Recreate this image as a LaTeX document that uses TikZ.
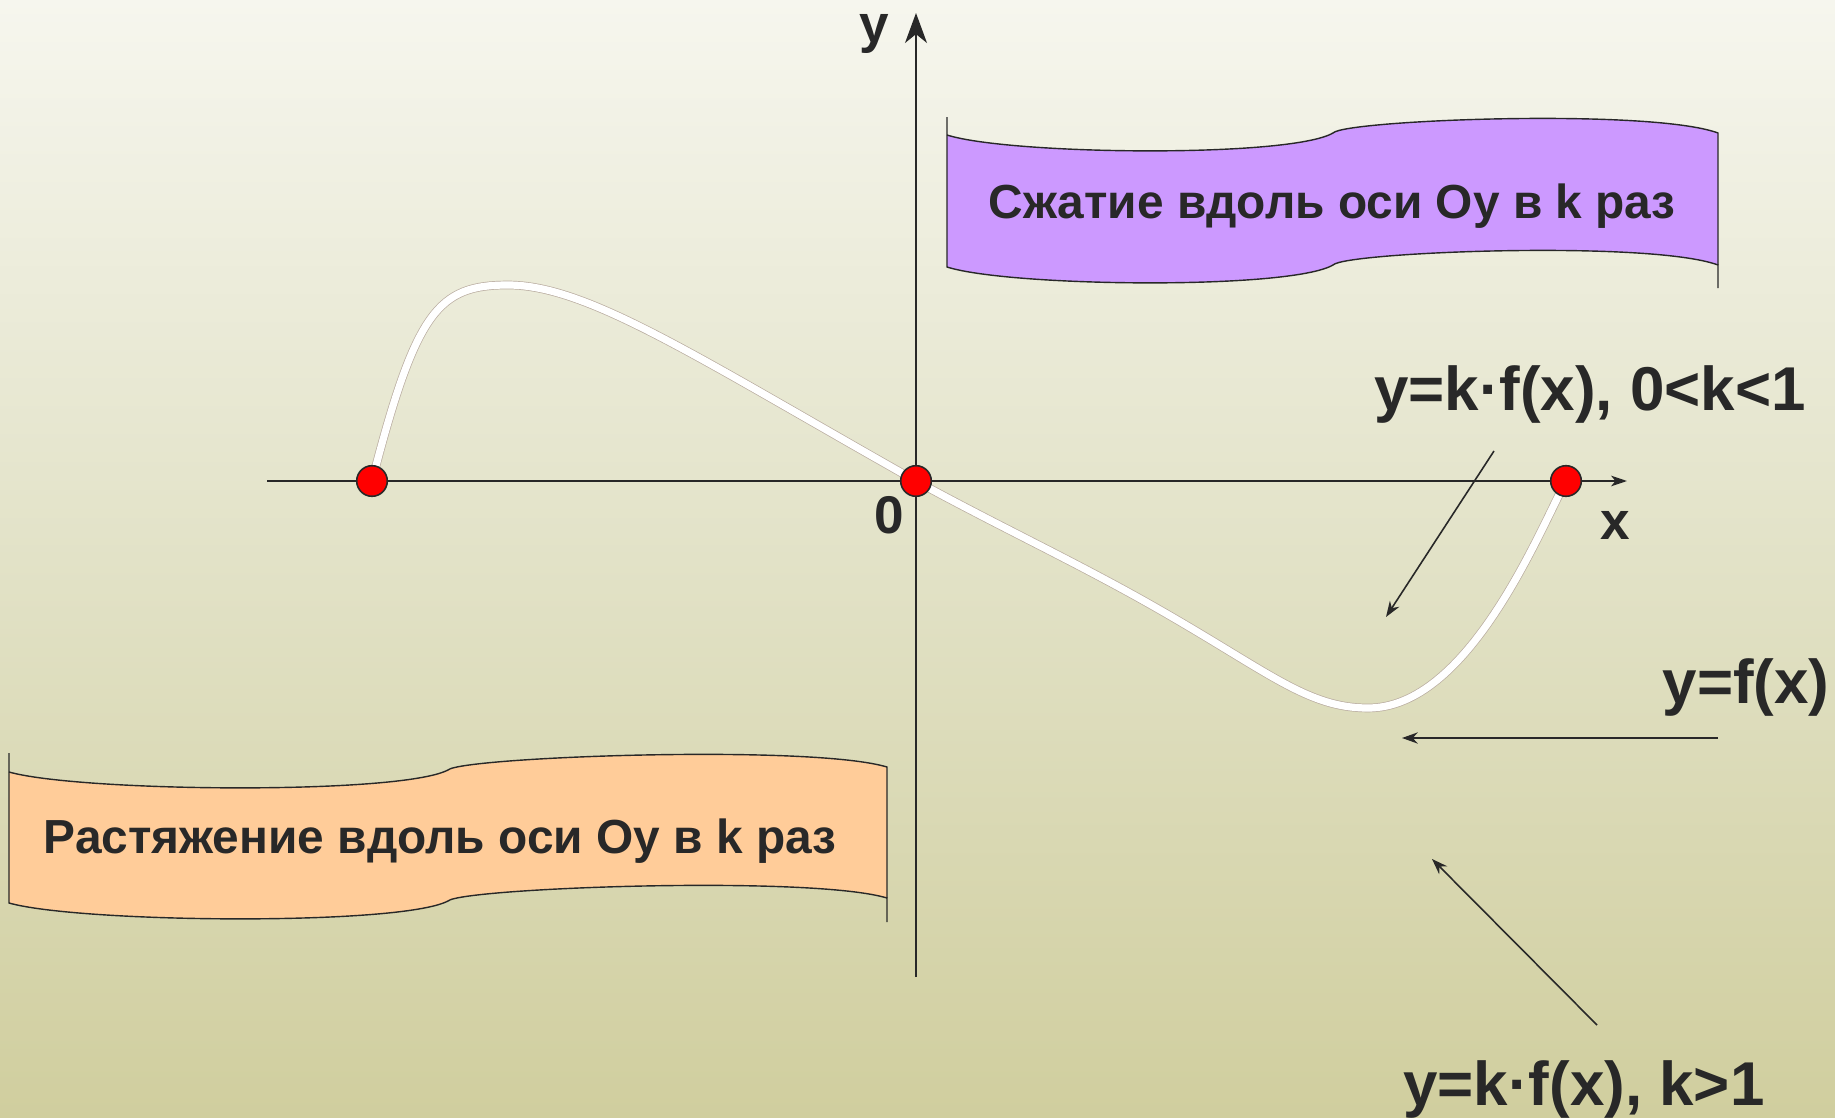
\documentclass[tikz,border=0pt]{standalone}
\usepackage{fontspec}
\setmainfont{Liberation Sans}
\usetikzlibrary{arrows.meta}
\definecolor{bgtop}{RGB}{246,246,238}
\definecolor{bgmid}{RGB}{226,226,199}
\definecolor{bgbot}{RGB}{208,206,158}
\definecolor{ink}{RGB}{40,40,40}
\definecolor{lilac}{RGB}{204,153,255}
\definecolor{peach}{RGB}{255,204,153}
\definecolor{curveedge}{RGB}{185,172,160}
\tikzset{
  axisline/.style={draw=ink, line width=0.6pt},
  pointer/.style={draw=ink, line width=0.45pt, -{Stealth[length=4.5pt, width=3.2pt]}},
  reddot/.style={circle, fill=red, draw=ink, line width=0.45pt, minimum size=8.7pt, inner sep=0pt},
  lbl/.style={font=\bfseries\fontsize{17.6}{20}\selectfont, text=ink, inner sep=0pt, anchor=base},
  axl/.style={font=\bfseries\fontsize{15.1}{18}\selectfont, text=ink, inner sep=0pt, anchor=base},
  bantext/.style={font=\bfseries\fontsize{13.6}{16}\selectfont, text=ink, inner sep=0pt, anchor=base},
  banner/.style={draw=ink, line width=0.4pt},
}
\begin{document}
\begin{tikzpicture}[x=0.01cm, y=-0.01cm]
\useasboundingbox (0,0) rectangle (1835,1118);
\shade[top color=bgtop, bottom color=bgbot, middle color=bgmid] (0,0) rectangle (1835,1118);

% purple banner
\path[fill=lilac] (947,135) .. controls (1010,155) and (1290,158) .. (1333,133)
  .. controls (1345,120) and (1650,108) .. (1718,133) -- (1718,265)
  .. controls (1650,240) and (1345,252) .. (1333,265)
  .. controls (1290,290) and (1010,287) .. (947,267) -- cycle;
\draw[banner] (947,117) -- (947,267) .. controls (1010,287) and (1290,290) .. (1333,265)
  .. controls (1345,252) and (1650,240) .. (1718,265) -- (1718,288);
\draw[banner] (947,135) .. controls (1010,155) and (1290,158) .. (1333,133)
  .. controls (1345,120) and (1650,108) .. (1718,133) -- (1718,265);
\node[bantext] (t1) at (1332,218) {Сжатие вдоль оси Оу в k раз};

% orange banner
\path[fill=peach] (9,772) .. controls (80,792) and (400,795) .. (448,770)
  .. controls (462,757) and (810,744) .. (887,767) -- (887,898)
  .. controls (810,875) and (462,888) .. (448,901)
  .. controls (400,926) and (80,923) .. (9,903) -- cycle;
\draw[banner] (9,753) -- (9,903) .. controls (80,923) and (400,926) .. (448,901)
  .. controls (462,888) and (810,875) .. (887,898) -- (887,922);
\draw[banner] (9,772) .. controls (80,792) and (400,795) .. (448,770)
  .. controls (462,757) and (810,744) .. (887,767) -- (887,898);
\node[bantext] (t2) at (440,853) {Растяжение вдоль оси Оу в k раз};

% axes
\coordinate (xs) at (267,481);
\coordinate (xe) at (1627,481);
\coordinate (ys) at (916,977);
\coordinate (ye) at (916,13);
\draw[axisline, -{Stealth[length=4.5pt, width=3pt, inset=1.2pt]}] (xs) -- (xe);
\draw[draw=ink, line width=0.85pt, -{Stealth[length=8.5pt, width=6.2pt, inset=2.5pt]}] (ys) -- (ye);

% dots positions
\coordinate (pL) at (372,481);
\coordinate (pO) at (916,481);
\coordinate (pR) at (1566,481);

% curve
\foreach \w/\c in {2.45pt/curveedge, 2.05pt/white}{
\draw[line width=\w, draw=\c] (pL) .. controls (416,311) and (438,285) .. (508,285)
  .. controls (588,285) and (698,358) .. (pO)
  .. controls (1000,527) and (1080,564) .. (1160,610)
  .. controls (1270,673) and (1308,708) .. (1368,708)
  .. controls (1468,708) and (1538,534) .. (pR);
}
\node[reddot] (dL) at (pL) {};
\node[reddot] (dO) at (pO) {};
\node[reddot] (dR) at (pR) {};

% axis labels
\node[axl] (ly) at (874,42) {y};
\node[axl] (lx) at (1615,539) {x};
\node[axl] (l0) at (889,533) {0};

% labels
\node[lbl] (l1) at (1590,410) {y=k·f(x), 0<k<1};
\node[lbl] (l2) at (1746,703) {y=f(x)};
\node[lbl] (l3) at (1584,1105) {y=k·f(x), k>1};

% pointers
\coordinate (a1s) at (1494,451);
\coordinate (a1e) at (1386,617);
\coordinate (a2s) at (1718,738);
\coordinate (a2e) at (1402,738);
\coordinate (a3s) at (1597,1025);
\coordinate (a3e) at (1432,859);
\draw[pointer] (a1s) -- (a1e);
\draw[pointer] (a2s) -- (a2e);
\draw[pointer] (a3s) -- (a3e);
\end{tikzpicture}
\end{document}
